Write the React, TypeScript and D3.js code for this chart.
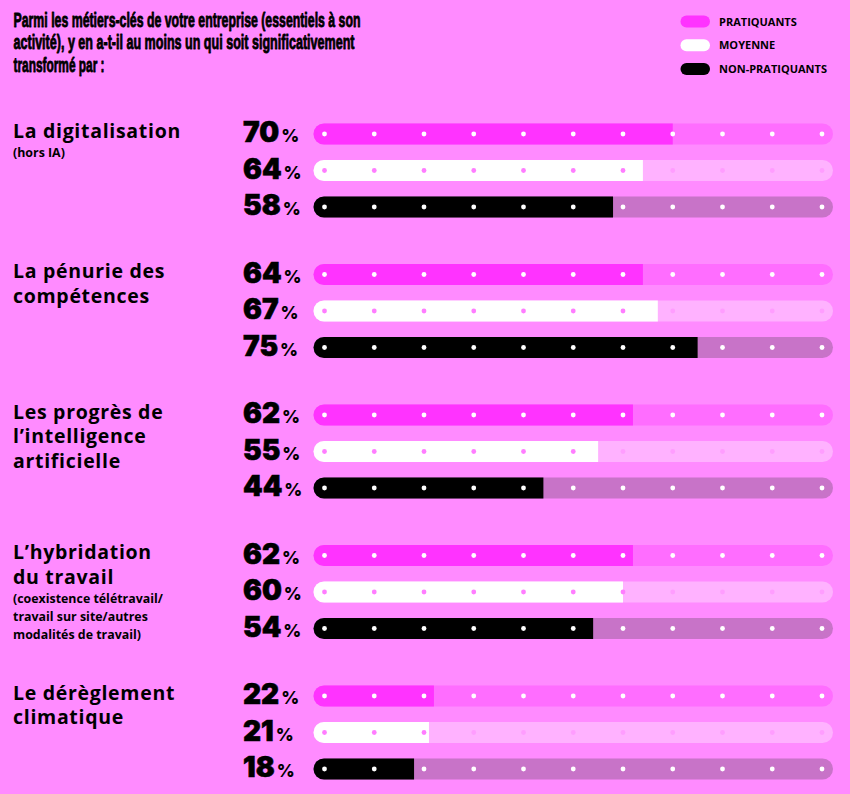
import React, { useEffect, useRef } from "react";
import * as d3 from "d3";

const categories = [
  "La digitalisation",
  "La pénurie des compétences",
  "Les progrès de l’intelligence artificielle",
  "L’hybridation du travail",
  "Le dérèglement climatique",
];
const labelLines = [
  ["La digitalisation"],
  ["La pénurie des", "compétences"],
  ["Les progrès de", "l’intelligence", "artificielle"],
  ["L’hybridation", "du travail"],
  ["Le dérèglement", "climatique"],
];
const subLines = [
  ["(hors IA)"],
  [],
  [],
  ["(coexistence télétravail/", "travail sur site/autres", "modalités de travail)"],
  [],
];
const seriesNames = ["PRATIQUANTS", "MOYENNE", "NON-PRATIQUANTS"];
const pratiquants = [70, 64, 62, 62, 22];
const moyenne = [64, 67, 55, 60, 21];
const nonPratiquants = [58, 75, 44, 54, 18];
const titleLines = [
  "Parmi les métiers-clés de votre entreprise (essentiels à son",
  "activité), y en a-t-il au moins un qui soit significativement",
  "transformé par :",
];

const W = 850;
const H = 794;
const BG = "#FF8BFF";
const barColors = ["#FF33FF", "#FFFFFF", "#000000"];
const trackColors = ["#FF6DFF", "#FFB2FF", "#C873C8"];
const dotOnBar = ["#FFFFFF", "#FF7DFF", "#FFFFFF"];
const dotOnTrack = ["#FFFFFF", "#FF9DFF", "#FFFFFF"];

export default function App() {
  const ref = useRef<SVGSVGElement>(null);

  useEffect(() => {
    document.body.style.margin = "0";
    const svg = d3.select(ref.current);
    svg.selectAll("*").remove();

    svg.append("rect").attr("width", W).attr("height", H).attr("fill", BG);

    const series = [pratiquants, moyenne, nonPratiquants];
    const x = d3.scaleLinear().domain([0, 100]).range([324.5, 822]);
    const groupY = d3
      .scaleLinear()
      .domain([0, categories.length - 1])
      .range([170.5, 732.5]);
    const rowOff = d3.scaleLinear().domain([0, 2]).range([-36.5, 36.5]);
    const barH = 21;
    const pad = 11;
    const r = barH / 2;

    // Title
    const titleWidths = [347, 341, 91];
    const title = svg.append("g");
    titleLines.forEach((t, i) => {
      title
        .append("text")
        .attr("x", 13.5)
        .attr("y", 26.5 + i * 22.7)
        .attr("font-family", "'Liberation Sans Narrow', 'Liberation Sans', Arial, sans-serif")
        .attr("font-weight", 700)
        .attr("font-size", 21)
        .attr("fill", "#000")
        .attr("stroke", "#000")
        .attr("stroke-width", 0.9)
        .attr("stroke-linejoin", "round")
        .attr("textLength", titleWidths[i])
        .attr("lengthAdjust", "spacingAndGlyphs")
        .text(t);
    });

    // Legend
    const leg = svg.append("g");
    seriesNames.forEach((n, i) => {
      const cy = 21.5 + i * 23.8;
      leg
        .append("rect")
        .attr("x", 680.5)
        .attr("y", cy - 6)
        .attr("width", 29.5)
        .attr("height", 12)
        .attr("rx", 6)
        .attr("fill", barColors[i]);
      leg
        .append("text")
        .attr("x", 719)
        .attr("y", cy + 4)
        .attr("font-family", "'Open Sans', Lato, sans-serif")
        .attr("font-weight", 700)
        .attr("font-size", 11)
        .attr("fill", "#000")
        .text(n);
    });

    const ticks = x.ticks(10);

    categories.forEach((c, gi) => {
      const gy = groupY(gi);
      const g = svg.append("g");
      const firstY = gy + rowOff(0);
      // labels
      labelLines[gi].forEach((l, li) => {
        g.append("text")
          .attr("x", 13)
          .attr("y", firstY + 3.5 + li * 24.6)
          .attr("font-family", "'Open Sans', Lato, sans-serif")
          .attr("font-weight", 700)
          .attr("font-size", 19.5)
          .attr("letter-spacing", 0.7)
          .attr("fill", "#000")
          .text(l);
      });
      const subStart = firstY + 3.5 + (labelLines[gi].length - 1) * 24.6;
      subLines[gi].forEach((l, li) => {
        g.append("text")
          .attr("x", 13)
          .attr("y", subStart + 19.5 + li * 18)
          .attr("font-family", "'Open Sans', Lato, sans-serif")
          .attr("font-weight", 700)
          .attr("font-size", 12.4)
          .attr("fill", "#000")
          .text(l);
      });

      series.forEach((s, si) => {
        const cy = gy + rowOff(si);
        const v = s[gi];
        // value label
        const t = g
          .append("text")
          .attr("x", 243)
          .attr("y", cy + 8)
          .attr("fill", "#000")
          .attr("font-family", "Inter, Lato, sans-serif");
        t.append("tspan")
          .attr("font-weight", 900)
          .attr("font-size", 28)
          .attr("stroke", "#000")
          .attr("stroke-width", 0.6)
          .text(String(v));
        t.append("tspan")
          .attr("font-weight", 800)
          .attr("font-size", 17.5)
          .attr("dx", 2)
          .text("%");

        // track
        g.append("rect")
          .attr("x", x(0) - pad)
          .attr("y", cy - r)
          .attr("width", x(100) - x(0) + 2 * pad)
          .attr("height", barH)
          .attr("rx", r)
          .attr("fill", trackColors[si]);
        // bar: rounded left, flat right
        const x0 = x(0) - pad;
        const x1 = x(v);
        const path = d3.path();
        path.moveTo(x1, cy - r);
        path.lineTo(x0 + r, cy - r);
        path.arc(x0 + r, cy, r, -Math.PI / 2, Math.PI / 2, true);
        path.lineTo(x1, cy + r);
        path.closePath();
        g.append("path").attr("d", path.toString()).attr("fill", barColors[si]);
        // dots
        g.selectAll(null)
          .data(ticks)
          .enter()
          .append("circle")
          .attr("cx", (d) => x(d))
          .attr("cy", cy)
          .attr("r", 2.4)
          .attr("fill", (d) => (x(d) <= x1 ? dotOnBar[si] : dotOnTrack[si]));
      });
    });
  }, []);

  return (
    <svg
      ref={ref}
      width={W}
      height={H}
      style={{ position: "absolute", left: 0, top: 0, display: "block" }}
    />
  );
}
